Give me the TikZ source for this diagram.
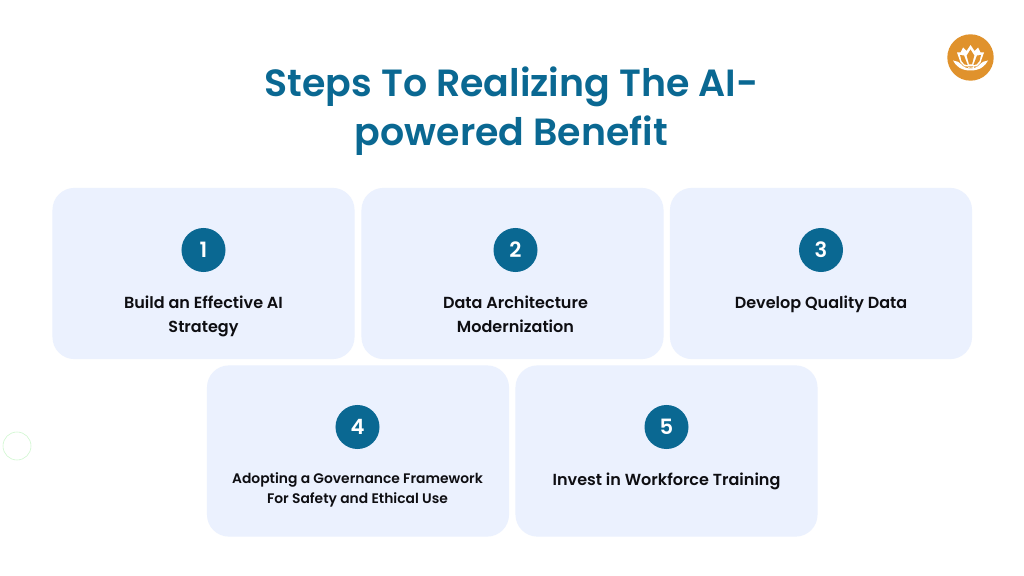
\documentclass[tikz,border=0pt]{standalone}
\usepackage{fontspec}
\setmainfont{Poppins}[BoldFont={Poppins SemiBold}]
\definecolor{stepblue}{RGB}{10,104,146}
\definecolor{cardblue}{RGB}{235,241,254}
\definecolor{logoorange}{RGB}{224,146,44}
\definecolor{ringgreen}{RGB}{205,247,205}
\definecolor{stepink}{RGB}{14,14,18}
\tikzset{
    card/.style={fill=cardblue, rounded corners=0.55cm, minimum width=7.55cm, minimum height=4.28cm, inner sep=0pt},
    badge/.style={circle, fill=stepblue, text=white, minimum size=1.1cm, inner sep=0pt, font=\fontsize{15}{15}\selectfont\bfseries},
    steptext/.style={text=stepink, align=center, inner sep=0pt, font=\fontsize{11.4}{17}\selectfont\bfseries},
    smalltext/.style={text=stepink, align=center, inner sep=0pt, font=\fontsize{9.85}{14.5}\selectfont\bfseries}
}
\begin{document}
\begin{tikzpicture}[x=0.025cm, y=-0.025cm]
    \useasboundingbox (0, 0) rectangle (1024, 576);
    \fill [white] (0, 0) rectangle (1024, 576);

    \node [text=stepblue, align=center, inner sep=0pt, font=\fontsize{26.95}{35}\selectfont\bfseries] (Title) at (511.5, 111) {Steps To Realizing The AI-\\powered Benefit};

    \node [card] (C1) at (203.5, 273.5) {};
    \node [card] (C2) at (512.5, 273.5) {};
    \node [card] (C3) at (821, 273.5) {};
    \node [card] (C4) at (358, 451) {};
    \node [card] (C5) at (666.5, 451) {};

    \node [badge] (B1) at (203.5, 250) {1};
    \node [badge] (B2) at (515.5, 250) {2};
    \node [badge] (B3) at (821, 250) {3};
    \node [badge] (B4) at (357.5, 427) {4};
    \node [badge] (B5) at (666.5, 427) {5};

    \node [steptext] (T1) at (203.5, 316) {Build an Effective AI\\Strategy};
    \node [steptext] (T2) at (515.5, 314) {Data Architecture\\Modernization};
    \node [steptext] (T3) at (821, 304) {Develop Quality Data};
    \node [smalltext] (T4) at (357.5, 490) {Adopting a Governance Framework\\For Safety and Ethical Use};
    \node [steptext] (T5) at (666.5, 481) {Invest in Workforce Training};

    % faint ring on the left
    \node [draw=ringgreen, circle, minimum size=0.7cm, inner sep=0pt] (Ring) at (17, 446) {};

    % logo
    \node [circle, fill=logoorange, minimum size=1.16cm, inner sep=0pt] (Logo) at (970.5, 57.5) {};
    \begin{scope}[shift={(Logo.center)}]
        \fill [white] (-17.5, 3) .. controls (-14, 3) and (-11, 5) .. (-9, 7) .. controls (-8, 9) and (-4, 11) .. (0, 11) .. controls (4, 11) and (8, 9) .. (9, 7) .. controls (11, 5) and (14, 3) .. (17.5, 3) .. controls (15, 8) and (10, 13) .. (0, 13) .. controls (-10, 13) and (-15, 8) .. (-17.5, 3) -- cycle;
        \fill [white] (-13.5, -5) -- (-10, -5) -- (-7.5, -10) -- (-4, -6.5) -- (0, -12.5) -- (4, -6.5) -- (7.5, -10) -- (10, -5) -- (13.5, -5) -- (10, 5) -- (6, 9) -- (-6, 9) -- (-10, 5) -- cycle;
        \fill [logoorange] (-10.5, -2.5) -- (-6.5, -2) -- (-2.8, 7.5) -- (-6, 7) -- (-9, 3.5) -- cycle;
        \fill [logoorange] (10.5, -2.5) -- (6.5, -2) -- (2.8, 7.5) -- (6, 7) -- (9, 3.5) -- cycle;
        \fill [logoorange] (0, -8) -- (3.8, -2) -- (1.5, 7) -- (-1.5, 7) -- (-3.8, -2) -- cycle;
        \draw [white, line width=0.5pt, line cap=round] (-3, 8.5) .. controls (1, 6.5) and (5, 8) .. (3, 10) .. controls (1, 11) and (-1, 10.5) .. (-2, 10);
    \end{scope}
\end{tikzpicture}
\end{document}
